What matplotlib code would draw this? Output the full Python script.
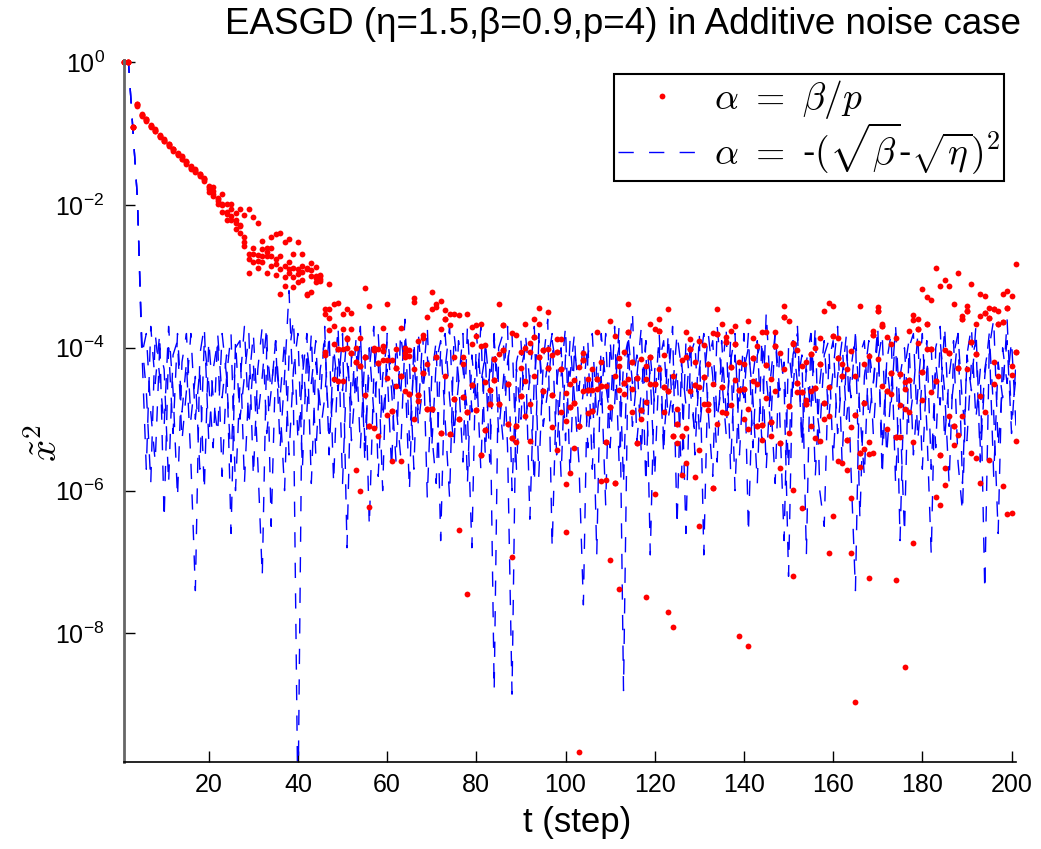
import matplotlib
matplotlib.use("Agg")
import matplotlib.pyplot as plt
import numpy as np

plt.rcParams['font.family'] = ['Liberation Sans', 'DejaVu Sans']
plt.rcParams['mathtext.fontset'] = 'cm'

# time steps t = 1 .. 201
steps = np.arange(1, 202)

# log10 of x~^2, alpha = beta/p (four dots per step)
red_a = [0, 0, -0.91, -0.59, -0.72, -0.80, -0.88, -0.95, -1.02, -1.08,
         -1.14, -1.21, -1.27, -1.32, -1.39, -1.46, -1.50, -1.56, -1.62, -1.74,
         -1.75, -1.90, -1.84, -1.98, -1.98, -2.11, -2.05, -2.14, -2.06, -2.17,
         -2.25, -2.51, -2.60, -2.45, -2.40, -2.39, -2.52, -2.48, -2.69, -2.52,
         -2.68, -2.88, -2.81, -2.87, -2.99,
         -3.52, -3.10, -3.39, -3.37, -3.52,
         -3.46, -3.51, -4.00, -3.86, -3.16, -3.41, -4.00, -4.02, -3.72, -3.38,
         -4.17, -4.01, -3.72, -4.00, -4.03, -3.30, -3.91, -3.86, -3.57, -3.22,
         -3.43, -3.34, -3.47, -3.53, -3.52, -3.54, -4.13, -3.53, -3.71, -3.68,
         -3.66, -3.96, -4.59, -4.15, -3.39, -3.68, -4.50, -3.79, -3.82, -4.06,
         -3.66, -3.93, -3.59, -3.44, -4.03, -3.50, -4.10, -3.88, -3.88, -4.63,
         -4.50, -4.45, -4.27, -4.07, -4.44, -4.59, -3.78, -4.54, -4.53, -3.62,
         -3.83, -4.14, -4.06, -3.39, -4.20, -4.42, -4.15, -4.25, -3.66, -3.73,
         -3.60, -4.55, -3.45, -5.24, -4.85, -4.17, -3.78, -3.88, -4.52, -3.91,
         -3.96, -4.23, -3.79, -3.46, -3.67, -3.85, -3.77, -3.69, -4.59, -4.22,
         -3.63, -3.86, -3.98, -3.78, -3.78, -4.43, -3.78, -4.07, -3.41, -3.63,
         -3.93, -4.03, -4.26, -4.73, -4.09, -4.56, -3.86, -3.49, -3.37, -3.41,
         -3.86, -4.22, -5.29, -4.05, -4.94, -3.41, -4.22, -4.11, -3.76, -3.43,
         -3.66, -3.85, -3.95, -3.86, -4.37, -4.48, -3.76, -3.54, -3.59, -3.17,
         -3.29, -3.33, -2.88, -3.13, -3.05, -3.13, -3.39, -2.95, -3.56, -3.42,
         -3.10, -3.67, -3.24, -3.27, -3.44, -3.46, -3.48, -3.25, -3.20, -3.28,
         -2.82]

red_b = [0, 0, -0.91, -0.60, -0.74, -0.81, -0.90, -0.96, -1.03, -1.09,
         -1.15, -1.22, -1.28, -1.33, -1.40, -1.47, -1.51, -1.58, -1.64, -1.75,
         -1.80, -1.92, -1.98, -2.10, -2.05, -2.21, -2.28, -2.52, -2.68, -2.68,
         -2.79, -2.72, -2.72, -2.72, -2.98, -2.72, -3.01, -2.80, -3.01, -2.90,
         -3.05, -3.26, -2.91, -2.99, -3.04,
         -3.45, -3.46, -3.70, -4.02, -3.74,
         -3.86, -3.74, -4.20, -4.26, -4.13, -5.10, -4.03, -4.21, -3.98, -4.17,
         -4.88, -4.28, -4.40, -4.07, -4.11, -3.36, -4.66, -3.82, -4.22, -3.46,
         -3.39, -3.73, -3.59, -3.68, -4.13, -5.00, -4.23, -4.90, -3.95, -3.84,
         -3.98, -4.48, -4.78, -4.45, -4.09, -4.03, -5.07, -5.26, -5.09, -4.28,
         -4.00, -4.06, -3.85, -3.67, -4.03, -4.01, -4.66, -4.06, -4.30, -5.03,
         -4.83, -4.77, -5.09, -4.17, -4.59, -4.89, -4.43, -5.87, -5.32, -4.83,
         -5.89, -4.25, -4.49, -3.78, -4.57, -5.33, -4.87, -4.44, -4.13, -4.51,
         -3.76, -4.90, -4.61, -7.91, -5.07, -5.23, -4.13, -4.02, -5.81, -4.55,
         -4.41, -4.79, -5.97, -3.81, -4.55, -3.92, -4.27, -3.94, -8.04, -4.58,
         -4.85, -4.14, -5.10, -5.08, -4.24, -5.04, -3.98, -5.33, -3.57, -4.81,
         -3.94, -4.49, -4.62, -4.78, -5.09, -5.26, -4.22, -4.77, -4.55, -3.83,
         -4.14, -4.39, -5.71, -5.11, -8.96, -5.47, -4.77, -5.32, -3.82, -3.49,
         -3.69, -4.60, -4.35, -5.25, -5.25, -4.57, -4.45, -3.61, -3.73, -4.34,
         -3.66, -4.02, -4.47, -5.50, -4.03, -4.07, -5.09, -4.28, -3.60, -3.49,
         -3.92, -4.09, -3.55, -3.51, -3.58, -4.20, -3.66, -3.64, -3.44, -4.26,
         -4.06]

red_c = [0, 0, -0.91, -0.59, -0.75, -0.79, -0.91, -0.94, -1.05, -1.11,
         -1.17, -1.24, -1.30, -1.36, -1.42, -1.48, -1.54, -1.60, -1.66, -1.82,
         -1.88, -1.98, -2.10, -2.21, -2.21, -2.34, -2.39, -2.58, -2.95, -2.80,
         -2.88, -2.80, -2.95, -2.85, -2.75, -3.25, -3.14, -2.95, -3.15, -2.96,
         -2.94, -3.25, -3.22, -3.08, -2.98,
         -4.06, -3.58, -4.44, -4.01, -4.02,
         -4.00, -4.07, -5.71, -6.00, -4.66, -6.23, -5.13, -5.24, -4.04, -4.42,
         -5.59, -4.54, -5.59, -4.13, -4.64, -4.30, -4.75, -4.35, -4.85, -4.85,
         -4.13, -5.20, -3.59, -5.21, -4.72, -6.55, -4.69, -7.45, -4.52, -4.87,
         -5.50, -5.15, -4.78, -4.45, -4.78, -3.68, -5.07, -6.93, -5.32, -4.68,
         -4.46, -4.78, -3.85, -4.13, -4.60, -4.28, -5.11, -5.43, -4.90, -5.91,
         -5.75, -5.41, -9.66, -4.60, -4.92, -4.30, -4.58, -4.54, -5.85, -6.97,
         -4.40, -4.59, -4.64, -4.44, -4.20, -4.42, -5.00, -4.76, -4.51, -6.05,
         -4.30, -4.55, -7.70, -4.40, -5.33, -5.78, -5.12, -4.60, -4.52, -5.43,
         -4.79, -4.87, -4.50, -5.07, -4.55, -4.92, -4.27, -4.45, -4.59, -4.58,
         -5.14, -4.46, -5.10, -5.29, -4.24, -5.23, -3.98, -5.69, -4.30, -4.81,
         -5.99, -4.62, -6.25, -4.20, -4.09, -4.56, -5.31, -5.00, -4.95, -6.36,
         -5.58, -5.62, -4.30, -6.10, -4.40, -5.67, -5.42, -5.49, -5.48, -4.16,
         -4.53, -5.14, -4.65, -7.25, -4.37, -4.85, -4.45, -5.32, -3.93, -4.73,
         -4.01, -4.62, -6.09, -6.20, -5.68, -4.96, -5.36, -5.22, -4.95, -4.29,
         -5.47, -5.55, -4.68, -4.90, -5.57, -3.46, -4.40, -5.93, -6.33, -4.38,
         -5.30]

red_d = [0, 0, -0.91, -0.61, -0.74, -0.82, -0.90, -0.97, -1.03, -1.10,
         -1.16, -1.22, -1.29, -1.35, -1.40, -1.50, -1.52, -1.57, -1.63, -1.78,
         -1.84, -1.95, -2.00, -2.12, -2.15, -2.25, -2.30, -2.45, -2.75, -2.60,
         -2.70, -2.62, -2.66, -2.60, -2.82, -2.90, -2.85, -2.90, -2.88, -3.08,
         -2.85, -2.90, -3.00, -3.02, -3.06,
         -4.10, -3.75, -3.95, -4.46, -4.46,
         -3.87, -4.07, -4.20, -4.26, -4.13, -5.10, -4.03, -4.21, -4.17, -4.94,
         -4.88, -4.28, -4.40, -4.60, -4.64, -5.00, -4.66, -4.35, -4.85, -4.85,
         -4.13, -5.20, -4.40, -5.21, -4.72, -5.00, -4.69, -4.90, -4.52, -4.87,
         -5.50, -5.15, -4.59, -4.15, -4.78, -4.03, -4.50, -5.26, -5.09, -4.68,
         -4.96, -5.31, -4.40, -4.13, -4.60, -4.28, -4.66, -4.06, -4.30, -6.58,
         -4.83, -4.77, -5.09, -4.17, -4.59, -4.89, -4.43, -4.20, -5.32, -4.83,
         -5.89, -7.38, -4.49, -3.78, -4.90, -5.33, -4.87, -7.49, -4.13, -4.51,
         -3.76, -4.10, -4.61, -5.24, -5.07, -5.23, -5.61, -4.02, -4.20, -6.50,
         -4.41, -4.79, -5.97, -3.81, -4.90, -3.92, -4.80, -3.94, -4.20, -5.00,
         -8.18, -4.14, -4.50, -5.08, -4.70, -5.04, -4.60, -5.33, -3.57, -5.20,
         -7.20, -4.49, -4.62, -4.78, -4.60, -4.00, -4.22, -4.77, -6.88, -3.83,
         -4.14, -4.39, -5.29, -6.88, -4.94, -5.47, -4.77, -7.23, -3.82, -3.49,
         -3.69, -4.60, -4.35, -5.25, -4.80, -8.47, -4.90, -6.74, -3.73, -4.34,
         -3.66, -4.02, -4.47, -5.50, -5.92, -4.07, -5.09, -4.28, -3.60, -3.49,
         -3.92, -4.09, -5.90, -3.51, -3.58, -4.50, -3.66, -3.64, -3.44, -6.32,
         -4.06]

# log10 of x~^2, alpha = -(sqrt(beta) - sqrt(eta))^2 (three dashed traces)
blue_a = [0, 0, -0.95, -1.9, -4.0, -5.7, -3.7, -4.5, -3.8, -6.4,
          -4.0, -5.2, -3.8, -4.9, -4.2, -5.6, -7.4, -4.1, -3.7, -5.3,
          -4.3, -3.9, -5.8, -4.4, -3.8, -6.0, -4.5, -3.7, -5.1, -4.2,
          -5.6, -7.2, -4.0, -4.6, -3.9, -5.4, -4.4, -3.2, -4.8, -10.5,
          -4.1, -4.9, -3.8, -5.5, -4.3, -3.9, -5.2, -4.6, -3.7, -5.9,
          -4.2, -4.8, -3.9, -5.4, -4.1, -6.5, -4.4, -3.8, -5.0, -4.3,
          -5.7, -3.9, -4.7, -3.6, -5.3, -4.2, -4.9, -3.8, -6.1, -4.4,
          -3.9, -6.7, -4.3, -3.7, -5.2, -4.5, -3.8, -5.9, -4.1, -4.8,
          -3.7, -5.5, -4.3, -8.8, -4.0, -3.8, -5.4, -8.85, -4.2, -3.9,
          -5.1, -4.4, -3.7, -5.8, -4.2, -3.6, -6.8, -4.5, -4.0, -5.3,
          -3.9, -4.7, -5.6, -7.6, -4.1, -3.8, -5.0, -4.4, -6.2, -3.9,
          -4.8, -3.7, -8.8, -4.2, -3.5, -5.3, -4.6, -3.9, -6.9, -4.3,
          -4.0, -5.5, -3.8, -4.9, -4.3, -5.8, -3.9, -4.6, -5.2, -3.8,
          -6.9, -4.2, -3.9, -5.0, -4.5, -3.7, -5.7, -4.1, -4.8, -3.8,
          -6.6, -4.4, -3.9, -5.3, -3.5, -4.7, -5.9, -4.0, -4.5, -7.2,
          -4.1, -3.8, -5.4, -4.3, -4.9, -3.7, -6.0, -6.5, -4.2, -3.9,
          -5.2, -4.4, -3.8, -5.7, -7.4, -4.1, -3.9, -5.0, -4.5, -3.7,
          -5.8, -4.2, -4.8, -3.8, -6.7, -4.3, -3.9, -5.5, -4.6, -3.8,
          -5.1, -6.9, -4.0, -3.7, -5.3, -4.4, -3.9, -5.6, -6.3, -4.1,
          -3.7, -5.0, -4.3, -7.4, -4.0, -3.6, -5.4, -4.5, -3.9, -5.2,
          -4.2]

blue_b = [0, 0, -0.95, -1.9, -3.9, -4.6, -5.9, -3.8, -4.4, -5.1,
          -3.7, -4.6, -6.1, -4.2, -3.8, -5.0, -4.4, -5.7, -3.9, -4.5,
          -5.4, -3.8, -4.7, -4.1, -6.6, -3.9, -5.0, -4.4, -3.8, -5.8,
          -4.3, -3.7, -5.2, -4.6, -3.9, -4.8, -6.0, -4.1, -3.6, -5.3,
          -4.4, -3.8, -5.9, -4.2, -4.8, -3.7, -5.5, -4.0, -4.6, -3.8,
          -6.8, -4.1, -4.7, -3.8, -5.3, -4.3, -3.7, -5.8, -4.4, -3.9,
          -4.6, -5.6, -3.8, -4.3, -6.0, -3.9, -5.1, -4.5, -3.7, -5.4,
          -4.2, -3.9, -5.0, -6.1, -3.8, -4.4, -5.6, -3.7, -4.9, -4.2,
          -5.7, -3.9, -4.6, -3.8, -5.2, -4.5, -3.7, -6.0, -4.3, -5.0,
          -3.8, -4.5, -5.9, -3.9, -4.7, -4.2, -3.8, -5.5, -4.4, -3.7,
          -5.8, -4.0, -4.6, -3.9, -5.4, -4.3, -6.9, -3.8, -4.5, -5.0,
          -3.7, -5.6, -4.2, -3.9, -5.1, -4.4, -3.7, -5.9, -4.1, -4.8,
          -3.8, -5.3, -4.5, -3.7, -6.5, -4.2, -4.8, -3.9, -5.5, -4.3,
          -3.8, -4.9, -5.8, -3.7, -4.4, -5.2, -3.9, -6.0, -4.3, -4.7,
          -3.8, -5.4, -4.1, -3.9, -5.7, -4.4, -3.8, -4.9, -6.7, -4.0,
          -4.6, -3.7, -5.3, -4.2, -3.8, -5.8, -4.5, -3.9, -5.0, -4.3,
          -3.7, -5.6, -4.1, -4.7, -3.8, -6.4, -4.4, -3.9, -5.2, -4.2,
          -3.8, -5.5, -4.6, -3.7, -4.9, -6.6, -4.0, -3.8, -5.3, -4.4,
          -3.9, -5.7, -4.2, -4.8, -3.7, -5.1, -4.5, -3.8, -5.9, -4.1,
          -4.6, -3.7, -5.4, -4.3, -3.9, -5.8, -4.2, -4.7, -3.6, -5.0,
          -4.4]

blue_c = [0, 0, -0.95, -1.9, -4.1, -3.8, -4.9, -5.6, -4.0, -4.3,
          -5.9, -4.1, -3.9, -5.3, -4.6, -3.8, -5.0, -4.3, -6.0, -3.9,
          -4.7, -5.2, -3.8, -4.4, -5.6, -4.0, -3.9, -5.9, -4.5, -3.8,
          -5.0, -4.4, -3.7, -6.5, -4.2, -4.7, -3.9, -5.5, -4.3, -3.8,
          -5.7, -4.0, -4.5, -3.9, -5.2, -4.7, -3.8, -5.9, -4.1, -4.6,
          -3.8, -5.3, -4.4, -3.7, -5.6, -4.0, -4.9, -4.2, -6.0, -3.8,
          -4.4, -4.8, -5.5, -3.9, -4.2, -5.7, -3.8, -4.6, -4.1, -5.2,
          -5.9, -4.0, -3.8, -4.7, -5.4, -3.9, -4.3, -4.9, -6.8, -3.8,
          -4.5, -4.1, -5.6, -3.9, -4.6, -5.3, -4.2, -3.8, -5.7, -4.3,
          -4.0, -6.4, -4.4, -3.8, -5.1, -4.6, -3.9, -4.3, -5.8, -4.1,
          -4.4, -3.8, -5.2, -4.6, -3.9, -5.7, -4.2, -4.8, -3.8, -5.4,
          -4.3, -4.0, -5.9, -3.8, -4.5, -4.1, -5.5, -3.9, -4.4, -5.8,
          -4.2, -3.9, -5.0, -4.6, -3.8, -4.3, -6.6, -4.1, -3.9, -5.2,
          -4.5, -3.8, -4.4, -5.6, -3.9, -4.9, -4.2, -3.8, -5.5, -4.3,
          -4.0, -4.7, -5.9, -3.9, -4.4, -5.1, -3.8, -4.6, -4.2, -5.7,
          -3.9, -4.5, -4.1, -6.9, -3.8, -4.7, -5.2, -4.1, -3.9, -5.6,
          -4.4, -3.9, -5.0, -4.3, -3.8, -4.9, -5.8, -4.0, -4.5, -3.9,
          -5.4, -4.2, -3.8, -5.9, -4.4, -4.0, -5.1, -4.6, -3.8, -5.7,
          -4.3, -4.0, -5.4, -3.9, -4.6, -5.9, -4.1, -3.8, -4.8, -5.3,
          -4.2, -3.9, -5.6, -4.4, -3.8, -4.9, -6.6, -4.0, -4.5, -3.9,
          -5.1]

x_ticks = [20, 40, 60, 80, 100, 120, 140, 160, 180, 200]
y_exps = [-8, -6, -4, -2, 0]

fig = plt.figure(figsize=(10.41, 8.49), dpi=100)
ax = fig.add_axes([124 / 1041, 1 - 762 / 849, 892 / 1041, 702 / 849])

blue_lines = []
for vals in [blue_a, blue_b, blue_c]:
    ln, = ax.plot(steps, 10.0 ** np.array(vals), color='b', lw=1.0,
                  dashes=(11, 11), dash_capstyle='butt')
    blue_lines.append(ln)
red_lines = []
for vals in [red_a, red_b, red_c, red_d]:
    ln, = ax.plot(steps, 10.0 ** np.array(vals), ls='none', marker='o',
                  ms=4.2, mew=0, color='r', clip_on=False)
    red_lines.append(ln)

ax.set_yscale('log')
ax.set_xlim(1, 201)
ax.set_ylim(10 ** -9.8, 10 ** 0.03)
ax.minorticks_off()
ax.set_xticks(x_ticks)
ax.set_yticks([10.0 ** e for e in y_exps])
ax.set_yticklabels([r'$\mathregular{10^{%d}}$' % e for e in y_exps])
ax.tick_params(direction='in', length=8, width=1, labelsize=18)
ax.tick_params(axis='x', pad=8)
ax.tick_params(axis='y', pad=14)

ax.spines['top'].set_visible(False)
ax.spines['right'].set_visible(False)
ax.spines['left'].set_color('#666666')
ax.spines['left'].set_linewidth(2)
ax.spines['bottom'].set_linewidth(1.2)

ax.set_xlabel('t (step)', fontsize=25)
ax.xaxis.set_label_coords(0.508, -0.062)
ax.set_ylabel(r'$\tilde{x}^2$', fontsize=28)
ax.yaxis.set_label_coords(-0.066, 0.455)

fig.text(623 / 1041, 1 - 24 / 849,
         'EASGD (\u03b7=1.5,\u03b2=0.9,p=4) in Additive noise case',
         ha='center', va='center', fontsize=26.5)

leg = ax.legend([red_lines[0], blue_lines[0]],
                [r'$\alpha\ =\ \beta/p$',
                 r'$\alpha\ =\ $-$(\sqrt{\beta}$-$\sqrt{\eta})^2$'],
                loc='upper right', bbox_to_anchor=(1004 / 1041, 1 - 74 / 849),
                bbox_transform=fig.transFigure, borderaxespad=0,
                fancybox=False, framealpha=1, edgecolor='k', fontsize=27,
                handlelength=2.35, handletextpad=0.2, borderpad=0.1,
                labelspacing=0.0, numpoints=1)
leg.get_frame().set_linewidth(1.5)

fig.savefig('out.png', dpi=100)
